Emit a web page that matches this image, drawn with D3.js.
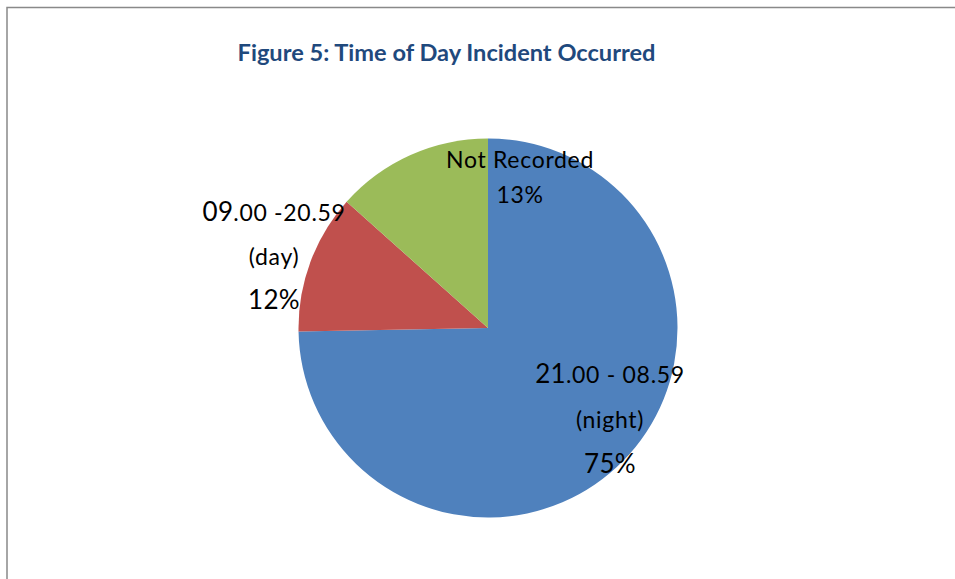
<!DOCTYPE html>
<html>
<head>
<meta charset="utf-8">
<script src="https://cdn.jsdelivr.net/npm/d3@7"></script>
<style>
  html, body { margin: 0; padding: 0; background: #fff; }
  svg { display: block; }
</style>
</head>
<body>
<svg id="chart" width="955" height="579"></svg>
<script>
// ---- data ----
const categories = ["21.00 - 08.59 (night)", "09.00 -20.59 (day)", "Not Recorded"];
const values = [74.7, 11.9, 13.4];
const percentLabels = ["75%", "12%", "13%"];
const colors = ["#4F81BD", "#C0504D", "#9BBB59"];
const title = "Figure 5: Time of Day Incident Occurred";

// label parts: [text, size-class] per line
const labelLines = [
  [[["21", "big"], [".00 - 08.59", "small"]], [["(night)", "small"]], [["75%", "big"]]],
  [[["09", "big"], [".00 -20.59", "small"]], [["(day)", "small"]], [["12%", "big"]]],
  [[["Not Recorded", "small"]], [["13%", "small"]]]
];
// label anchor (middle line baseline), relative to pie centre in units of radius (layout only)
const labelAnchor = [[0.644, 0.528], [-1.129, -0.332], [0.169, -0.752]];
const lineGap = [45, 44, 35];

const W = 955, H = 579;
const cx = 488, cy = 328, R = 189.5;
const svg = d3.select("#chart");
const fontFamily = "Lato, 'Open Sans', sans-serif";

// border
svg.append("rect")
  .attr("x", 7).attr("y", 7.5)
  .attr("width", W + 20).attr("height", H + 20)
  .attr("fill", "none").attr("stroke", "#898989").attr("stroke-width", 1.5);

// title
svg.append("text")
  .attr("x", 446.5).attr("y", 61)
  .attr("text-anchor", "middle")
  .attr("font-family", fontFamily)
  .attr("font-weight", "bold")
  .attr("font-size", 23.6)
  .attr("fill", "#1F497D")
  .text(title);

const pie = d3.pie().sort(null).value(d => d)
  .startAngle(0).endAngle(2 * Math.PI);
const arcs = pie(values);
const arc = d3.arc().innerRadius(0).outerRadius(R);

const g = svg.append("g").attr("transform", `translate(${cx},${cy})`);
g.selectAll("path.slice").data(arcs).enter().append("path")
  .attr("class", "slice")
  .attr("d", arc)
  .attr("fill", (d, i) => colors[i]);

const sizes = { big: 26, small: 23 };
const spacing = { big: 0.3, small: 0.7 };
arcs.forEach((a, i) => {
  const lines = labelLines[i];
  const n = lines.length;
  const ax = labelAnchor[i][0] * R, ay = labelAnchor[i][1] * R;
  const t = g.append("text")
    .attr("text-anchor", "middle")
    .attr("font-family", fontFamily)
    .attr("fill", "#000");
  lines.forEach((parts, li) => {
    const y = ay + (li - (n - 1) / 2) * lineGap[i];
    parts.forEach((p, pi) => {
      const ts = t.append("tspan")
        .attr("font-size", sizes[p[1]])
        .attr("letter-spacing", spacing[p[1]])
        .text(p[0]);
      if (pi === 0) ts.attr("x", ax).attr("y", y);
    });
  });
});
</script>
</body>
</html>
